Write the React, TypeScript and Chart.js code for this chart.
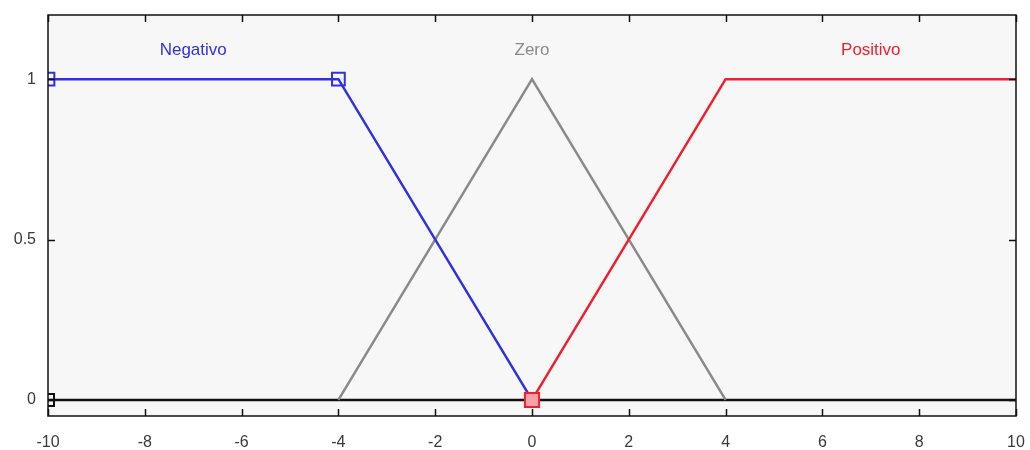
import React, { useEffect, useRef } from "react";
import { Chart, registerables } from "chart.js";

Chart.register(...registerables);

const xTicks = [-10, -8, -6, -4, -2, 0, 2, 4, 6, 8, 10];
const yTicks = [0, 0.5, 1];

const negX = [-10, -4, 0];
const negY = [1, 1, 0];
const zeroX = [-4, 0, 4];
const zeroY = [0, 1, 0];
const posX = [0, 4, 10];
const posY = [0, 1, 1];
const baseX = [-10, 10];
const baseY = [0, 0];

const mfNames = ["Negativo", "Zero", "Positivo"];
const mfLabelX = [-7, 0, 7];
const mfLabelY = [1.09, 1.09, 1.09];
const mfColors = ["#3030e0", "#8a8a8a", "#ee2030"];

const FONT = '"Liberation Sans", Arial, sans-serif';

const toPts = (xs: number[], ys: number[]) => xs.map((x, i) => ({ x, y: ys[i] }));

const framePlugin = {
  id: "frame",
  beforeDatasetsDraw(chart: any) {
    const { ctx, chartArea: a } = chart;
    ctx.save();
    ctx.fillStyle = "#f7f7f7";
    ctx.fillRect(a.left, a.top, a.right - a.left, a.bottom - a.top);
    ctx.restore();
  },
  afterDraw(chart: any) {
    const { ctx, chartArea: a, scales } = chart;
    const xs = scales.x;
    const ys = scales.y;
    ctx.save();
    ctx.strokeStyle = "#111";
    ctx.lineWidth = 1.5;
    ctx.strokeRect(a.left, a.top, a.right - a.left, a.bottom - a.top);
    const tl = 7;
    ctx.beginPath();
    xTicks.forEach((v) => {
      const px = Math.round(xs.getPixelForValue(v)) + 0.5;
      ctx.moveTo(px, a.bottom);
      ctx.lineTo(px, a.bottom - tl);
      ctx.moveTo(px, a.top);
      ctx.lineTo(px, a.top + tl);
    });
    yTicks.forEach((v) => {
      const py = Math.round(ys.getPixelForValue(v)) + 0.5;
      ctx.moveTo(a.left, py);
      ctx.lineTo(a.left + tl, py);
      ctx.moveTo(a.right, py);
      ctx.lineTo(a.right - tl, py);
    });
    ctx.stroke();
    ctx.font = "17px " + FONT;
    ctx.textAlign = "center";
    ctx.textBaseline = "middle";
    mfNames.forEach((n, i) => {
      ctx.fillStyle = mfColors[i];
      ctx.fillText(n, xs.getPixelForValue(mfLabelX[i]), ys.getPixelForValue(mfLabelY[i]));
    });
    ctx.restore();
  },
};

const zeroPad = (s: any) => {
  s.paddingLeft = 0;
  s.paddingRight = 0;
  s.paddingTop = 0;
  s.paddingBottom = 0;
};

export default function App() {
  const ref = useRef<HTMLCanvasElement>(null);
  useEffect(() => {
    if (!ref.current) return;
    const chart = new Chart(ref.current, {
      type: "line",
      data: {
        datasets: [
          {
            label: "Positivo",
            data: toPts(posX, posY),
            borderColor: mfColors[2],
            borderWidth: 2.5,
            pointStyle: "rect",
            pointRadius: [10, 0, 0],
            pointBorderColor: "#ee2030",
            pointBackgroundColor: "#f6a0a8",
            pointBorderWidth: 2,
            clip: 0,
            order: 1,
          } as any,
          {
            label: "Negativo",
            data: toPts(negX, negY),
            borderColor: mfColors[0],
            borderWidth: 2.5,
            pointStyle: "rect",
            pointRadius: [9, 9, 0],
            pointBorderColor: "#3030e0",
            pointBackgroundColor: "rgba(0,0,0,0)",
            pointBorderWidth: 2,
            clip: 0,
            order: 2,
          },
          {
            label: "Zero",
            data: toPts(zeroX, zeroY),
            borderColor: mfColors[1],
            borderWidth: 2.5,
            pointRadius: 0,
            clip: 0,
            order: 3,
          },
          {
            label: "base",
            data: toPts(baseX, baseY),
            borderColor: "#111",
            borderWidth: 2.5,
            pointStyle: "rect",
            pointRadius: [8.5, 0],
            pointBorderColor: "#111",
            pointBackgroundColor: "rgba(0,0,0,0)",
            pointBorderWidth: 2,
            clip: 0,
            order: 4,
          },
        ],
      },
      options: {
        animation: false,
        responsive: false,
        maintainAspectRatio: false,
        layout: { padding: { top: 15, right: 14, left: 0, bottom: 0 } },
        plugins: { legend: { display: false }, tooltip: { enabled: false } },
        elements: { line: { tension: 0 } },
        scales: {
          x: {
            type: "linear",
            min: -10,
            max: 10,
            afterBuildTicks: (s: any) => {
              s.ticks = xTicks.map((v) => ({ value: v }));
            },
            afterFit: (s: any) => {
              s.height = 34;
              zeroPad(s);
            },
            grid: { display: false },
            border: { display: false },
            ticks: {
              padding: 9,
              color: "#3a3a3a",
              font: { family: FONT, size: 16 },
              maxRotation: 0,
              callback: (v: any) => String(v),
            },
          },
          y: {
            type: "linear",
            min: -0.05,
            max: 1.2,
            afterBuildTicks: (s: any) => {
              s.ticks = yTicks.map((v) => ({ value: v }));
            },
            afterFit: (s: any) => {
              s.width = 48;
              zeroPad(s);
            },
            grid: { display: false },
            border: { display: false },
            ticks: {
              padding: 4,
              color: "#3a3a3a",
              font: { family: FONT, size: 16 },
              callback: (v: any) => String(v),
            },
          },
        },
      },
      plugins: [framePlugin],
    });
    return () => chart.destroy();
  }, []);
  return (
    <div style={{ position: "absolute", left: 0, top: 0, width: 1030, height: 450, background: "#fff" }}>
      <canvas ref={ref} width={1030} height={450} style={{ display: "block" }} />
    </div>
  );
}
